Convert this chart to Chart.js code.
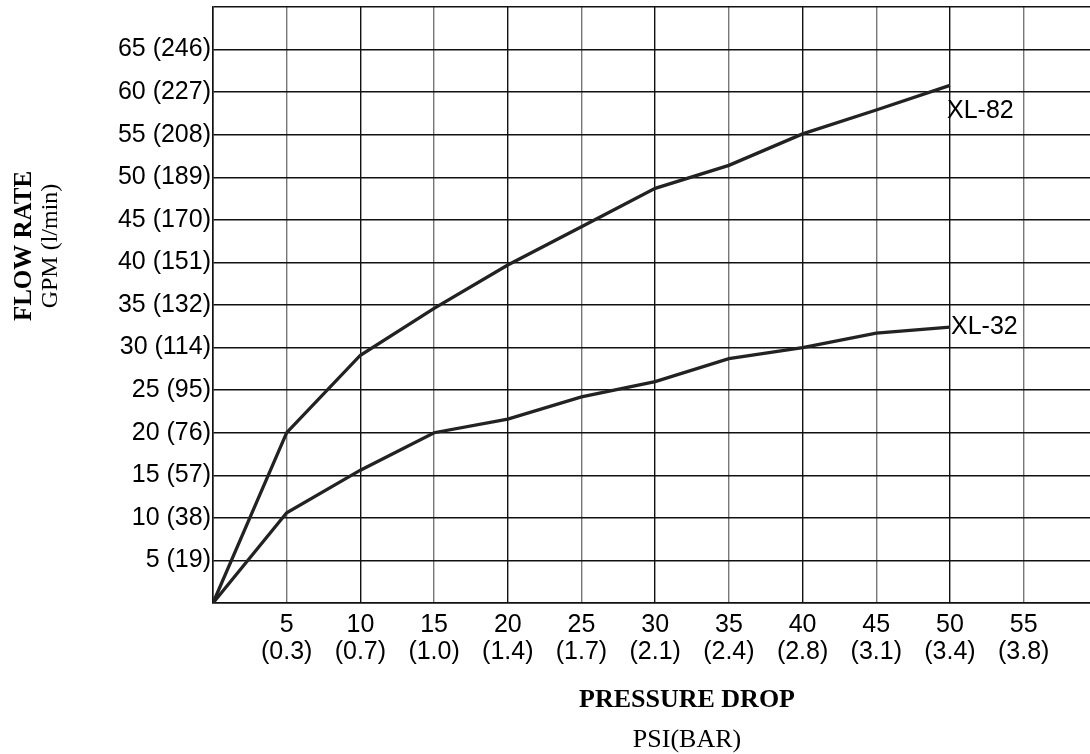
<!DOCTYPE html>
<html>
<head>
<meta charset="utf-8">
<script src="https://cdn.jsdelivr.net/npm/chart.js@4"></script>
<style>
  html, body { margin: 0; padding: 0; background: #fff; }
  #wrap { width: 1090px; height: 754px; }
</style>
</head>
<body>
<div id="wrap"><canvas id="canvas-chart" width="1090" height="754"></canvas></div>
<script>
// values
const psi = [0, 5, 10, 15, 20, 25, 30, 35, 40, 45, 50];
const xl82 = [0, 20, 29.1, 34.6, 39.7, 44.2, 48.7, 51.4, 55.1, 57.9, 60.8];
const xl32 = [0, 10.6, 15.6, 20, 21.6, 24.2, 26, 28.7, 30, 31.7, 32.4];

const xTickPsi = [5, 10, 15, 20, 25, 30, 35, 40, 45, 50, 55];
const xTickBar = ["0.3", "0.7", "1.0", "1.4", "1.7", "2.1", "2.4", "2.8", "3.1", "3.4", "3.8"];
const yTickGpm = [5, 10, 15, 20, 25, 30, 35, 40, 45, 50, 55, 60, 65];
const yTickLpm = [19, 38, 57, 76, 95, 114, 132, 151, 170, 189, 208, 227, 246];

const seriesNames = ["XL-82", "XL-32"];

const toPoints = (ys) => psi.map((x, i) => ({ x: x, y: ys[i] }));

// each curve is drawn twice (dark outer + light core) to get the double-line look
const makeSets = (ys, name) => [
  { label: name, data: toPoints(ys), borderColor: "#222", borderWidth: 3.3, pointRadius: 0, tension: 0 },
  { label: name + " core", data: toPoints(ys), borderColor: "#e4e4e4", borderWidth: 1.1, pointRadius: 0, tension: 0 },
];

const SANS = "'Liberation Sans', Arial, sans-serif";
const SERIF = "'Liberation Serif', 'Times New Roman', serif";

const labelsPlugin = {
  id: "labelsPlugin",
  afterDraw(chart) {
    const ctx = chart.ctx;
    const xs = chart.scales.x;
    const ys = chart.scales.y;
    ctx.save();
    ctx.fillStyle = "#000";

    // series names at the end of each curve
    ctx.font = "25px " + SANS;
    ctx.textAlign = "left";
    ctx.textBaseline = "middle";
    const last = psi.length - 1;
    ctx.fillText(seriesNames[0], xs.getPixelForValue(psi[last]) - 3, ys.getPixelForValue(xl82[last]) + 26);
    ctx.fillText(seriesNames[1], xs.getPixelForValue(psi[last]) + 1, ys.getPixelForValue(xl32[last]));

    // x axis title
    ctx.textAlign = "center";
    ctx.textBaseline = "alphabetic";
    ctx.font = "bold 26px " + SERIF;
    ctx.fillText("PRESSURE DROP", 687, 707);
    ctx.font = "26px " + SERIF;
    ctx.fillText("PSI(BAR)", 687, 747);

    // y axis title
    ctx.translate(0, 246);
    ctx.rotate(-Math.PI / 2);
    ctx.font = "bold 25px " + SERIF;
    ctx.fillText("FLOW RATE", 0, 31);
    ctx.font = "24px " + SERIF;
    ctx.fillText("GPM (l/min)", 0, 57);
    ctx.restore();
  },
};

const canvas = document.getElementById("canvas-chart");
const flowChart = new Chart(canvas, {
  type: "line",
  data: {
    datasets: [...makeSets(xl82, seriesNames[0]), ...makeSets(xl32, seriesNames[1])],
  },
  options: {
    responsive: false,
    animation: false,
    devicePixelRatio: 1,
    layout: { padding: { top: 7, right: 0, left: 0, bottom: 0 } },
    plugins: { legend: { display: false }, tooltip: { enabled: false } },
    scales: {
      x: {
        type: "linear",
        min: 0,
        max: 59.5,
        border: { color: "#111", width: 1.5 },
        grid: {
          color: (c) => (c.tick && c.tick.value % 10 === 5 ? "#777" : "#111"),
          lineWidth: 1.4,
          drawTicks: false,
        },
        ticks: {
          padding: 9,
          color: "#000",
          font: { family: SANS, size: 25, lineHeight: 1.08 },
          maxRotation: 0,
          autoSkip: false,
          callback: (v) => {
            const i = xTickPsi.indexOf(v);
            return i < 0 ? "" : [String(xTickPsi[i]), "(" + xTickBar[i] + ")"];
          },
        },
        // gridlines at 0 and at every labelled psi value
        afterBuildTicks: (s) => { s.ticks = [0, ...xTickPsi].map((v) => ({ value: v })); },
        afterFit: (s) => { s.height = 151; s.paddingLeft = 0; s.paddingRight = 0; },
      },
      y: {
        min: 0,
        max: 70,
        border: { color: "#111", width: 1.5 },
        grid: { color: "#111", lineWidth: 1.4, drawTicks: false },
        ticks: {
          stepSize: 5,
          padding: 2,
          color: "#000",
          font: { family: SANS, size: 25 },
          autoSkip: false,
          callback: (v) => {
            const i = yTickGpm.indexOf(v);
            return i < 0 ? "" : yTickGpm[i] + " (" + yTickLpm[i] + ")";
          },
        },
        afterFit: (s) => { s.width = 213; s.paddingTop = 0; s.paddingBottom = 0; },
      },
    },
  },
  plugins: [labelsPlugin],
});
</script>
</body>
</html>
